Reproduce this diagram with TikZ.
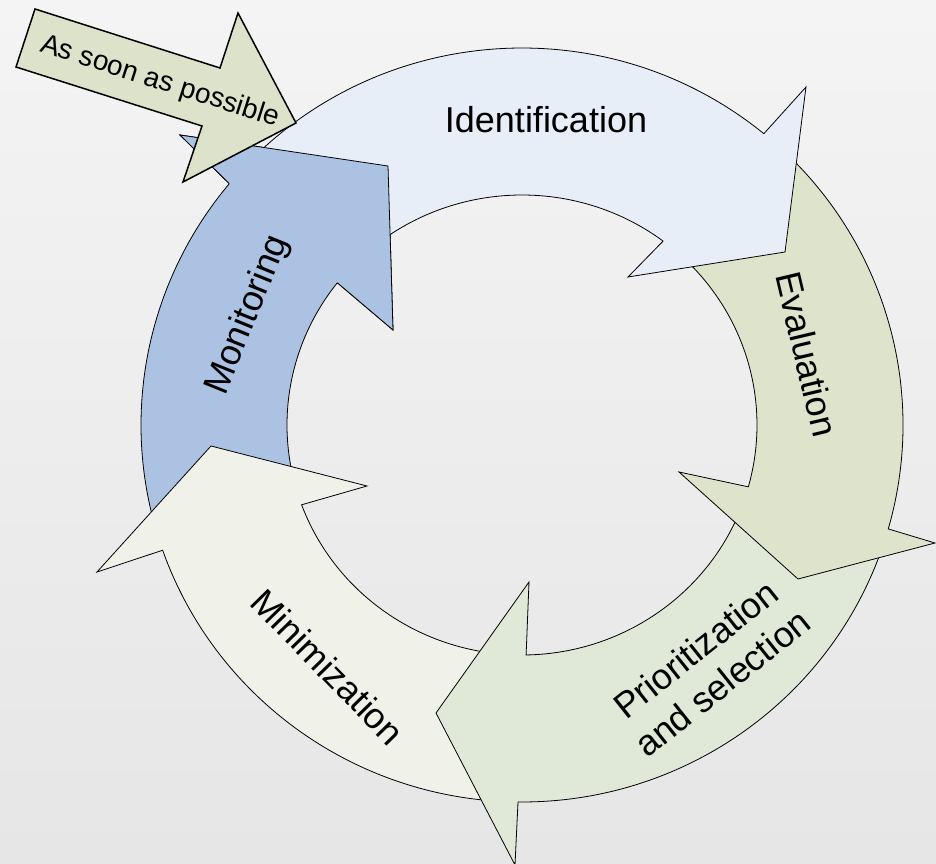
\documentclass[tikz,border=0pt]{standalone}
\usepackage{fontspec}
\setmainfont{Liberation Sans}
\definecolor{bgA}{RGB}{244,244,244}
\definecolor{bgB}{RGB}{230,230,230}
\definecolor{colId}{RGB}{232,238,248}
\definecolor{colEv}{RGB}{222,227,204}
\definecolor{colPr}{RGB}{224,232,216}
\definecolor{colMi}{RGB}{240,242,234}
\definecolor{colMo}{RGB}{171,194,227}
\definecolor{colSoon}{RGB}{221,227,202}
\begin{document}
\begin{tikzpicture}[x=1pt,y=1pt,
  ring/.style={draw=black, line width=0.8pt, line join=miter},
  soonsty/.style={draw=black, line width=1.5pt, line join=miter, fill=colSoon},
  lbl/.style={font=\fontsize{36}{43}\selectfont, text=black, align=center, inner sep=0pt}]
\useasboundingbox (0,0) rectangle (936,863);
\clip (0,0) rectangle (936,863);
\shade[shading angle=45, top color=bgA, bottom color=bgB] (0,0) rectangle (936,863);
\begin{scope}[shift={(522,438)}]
  % Monitoring
  \path[ring, fill=colMo] (195:381 and 377) arc[start angle=195, end angle=140.2, x radius=381pt, y radius=377pt]
    -- (-342,290) -- (-134,259) -- (-129,95) -- (141.8:235 and 230)
    arc[start angle=141.8, end angle=195, x radius=235pt, y radius=230pt] -- cycle;
  % Minimization
  \path[ring, fill=colMi] (266:381 and 377) arc[start angle=266, end angle=199.4, x radius=381pt, y radius=377pt]
    -- (-425,-147) -- (-311,-21) -- (-155,-61) -- (200.3:235 and 230)
    arc[start angle=200.3, end angle=266, x radius=235pt, y radius=230pt] -- cycle;
  % Prioritization
  \path[ring, fill=colPr] (-19:381 and 377) arc[start angle=-19, end angle=-90.6, x radius=381pt, y radius=377pt]
    -- (-7,-440) -- (-86,-288) -- (7,-157) -- (-89:235 and 230)
    arc[start angle=-89, end angle=-19, x radius=235pt, y radius=230pt] -- cycle;
  % Evaluation
  \path[ring, fill=colEv] (47:381 and 377) arc[start angle=47, end angle=-16, x radius=381pt, y radius=377pt]
    -- (413,-118) -- (276,-154) -- (157,-47) -- (-15.6:235 and 230)
    arc[start angle=-15.6, end angle=47, x radius=235pt, y radius=230pt] -- cycle;
  % Identification
  \path[ring, fill=colId] (135:381 and 377) arc[start angle=135, end angle=50.6, x radius=381pt, y radius=377pt]
    -- (284,338) -- (263,173) -- (106,148) -- (53.1:235 and 230)
    arc[start angle=53.1, end angle=135, x radius=235pt, y radius=230pt] -- cycle;
  % Monitoring head on top
  \fill[colMo] (140.2:381 and 377) -- (-342,290) -- (-134,259) -- (-129,95) -- (141.8:235 and 230) -- cycle;
  \draw[ring] (140.2:381 and 377) -- (-342,290) -- (-134,259) -- (-129,95) -- (141.8:235 and 230);
\end{scope}
% As soon as possible arrow
\path[soonsty] (35,854) -- (220,795) -- (238,850) -- (296,740) -- (183,681) -- (202,737) -- (16,796) -- cycle;
% labels
\node[lbl] (lid) at (546,743) {Identification};
\node[lbl, rotate=-76.7] (lev) at (807,509) {Evaluation};
\node[lbl, rotate=38.5] (lpr) at (709,197) {Prioritization\\and selection};
\node[lbl, rotate=-45.6] (lmi) at (328,196) {Minimization};
\node[lbl, rotate=68] (lmo) at (248,548) {Monitoring};
\node[font=\fontsize{28}{30}\selectfont, inner sep=0pt, rotate=-17.7] (lsoon) at (160,781) {As soon as possible};
\end{tikzpicture}
\end{document}
